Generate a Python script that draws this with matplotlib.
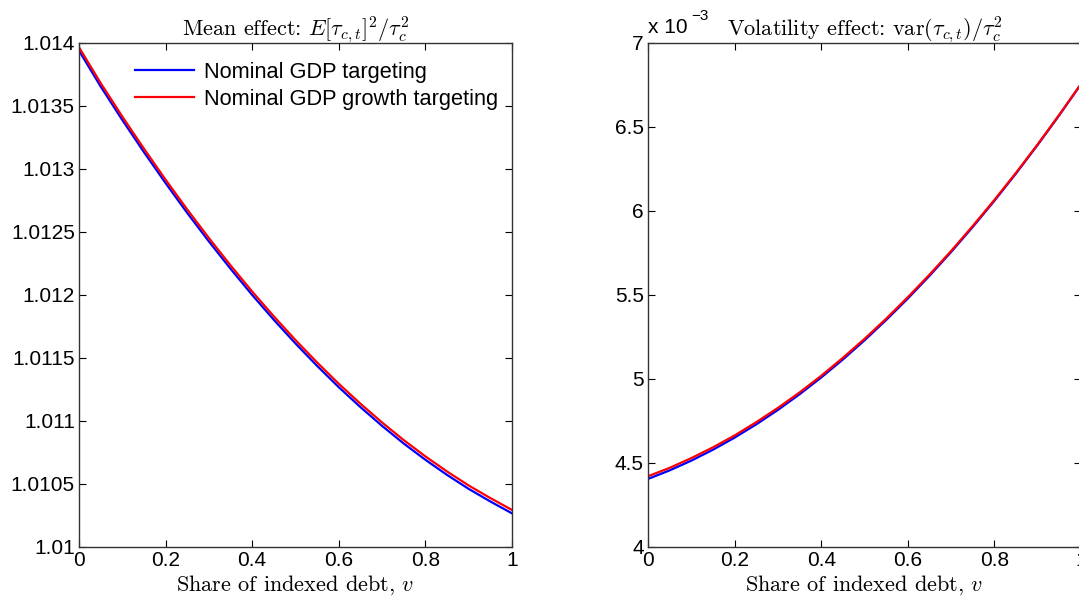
import numpy as np
import matplotlib
matplotlib.use("Agg")
import matplotlib.pyplot as plt

plt.rcParams['mathtext.fontset'] = 'cm'
plt.rcParams['font.family'] = ['Liberation Sans', 'DejaVu Sans']

# share of indexed debt
v = [0.0, 0.05, 0.1, 0.15, 0.2, 0.25, 0.3, 0.35, 0.4, 0.45, 0.5,
     0.55, 0.6, 0.65, 0.7, 0.75, 0.8, 0.85, 0.9, 0.95, 1.0]

# mean effect E[tau]^2 / tau^2
mean_ngdp = [1.013939, 1.013655, 1.013389, 1.013134, 1.012888, 1.012651, 1.012425,
             1.012208, 1.012000, 1.011803, 1.011615, 1.011437, 1.011268, 1.011110,
             1.010961, 1.010821, 1.010692, 1.010572, 1.010461, 1.010361, 1.010267]
mean_growth = [1.013966, 1.013682, 1.013416, 1.013161, 1.012915, 1.012678, 1.012452,
               1.012235, 1.012027, 1.011830, 1.011642, 1.011464, 1.011295, 1.011137,
               1.010988, 1.010848, 1.010719, 1.010599, 1.010488, 1.010388, 1.010294]

# volatility effect var(tau)/tau^2, in units of 1e-3
vol_ngdp = [4.405, 4.456, 4.514, 4.579, 4.651, 4.730, 4.816, 4.909, 5.009, 5.116, 5.230,
            5.351, 5.479, 5.614, 5.756, 5.905, 6.061, 6.224, 6.394, 6.571, 6.755]
vol_growth = [4.421, 4.471, 4.529, 4.593, 4.664, 4.743, 4.828, 4.920, 5.019, 5.126, 5.239,
              5.359, 5.487, 5.621, 5.762, 5.911, 6.066, 6.228, 6.397, 6.574, 6.757]

labels = ['Nominal GDP targeting', 'Nominal GDP growth targeting']
xticks = [0, 0.2, 0.4, 0.6, 0.8, 1]
mean_yticks = [1.01, 1.0105, 1.011, 1.0115, 1.012, 1.0125, 1.013, 1.0135, 1.014]
vol_yticks = [4, 4.5, 5, 5.5, 6, 6.5, 7]

fig = plt.figure(figsize=(10.79, 6.01), dpi=100)
ax1 = fig.add_axes([0.0732, 0.0899, 0.4013, 0.8386])
ax2 = fig.add_axes([0.6006, 0.0899, 0.4013, 0.8386])

def style(ax):
    ax.tick_params(direction='in', length=5, width=0.8, top=True, right=True,
                   labelsize=15, colors='black', pad=3)
    for s in ax.spines.values():
        s.set_color('#333333')
        s.set_linewidth(1.0)
    ax.set_xlim(0, 1)
    ax.set_xticks(xticks)
    ax.set_xticklabels(['0', '0.2', '0.4', '0.6', '0.8', '1'])
    ax.set_xlabel(r'Share of indexed debt, $v$', fontsize=16, fontfamily='cmr10', labelpad=2)

ax1.plot(v, mean_ngdp, color='#0000ff', lw=1.6, label=labels[0])
ax1.plot(v, mean_growth, color='#ff0000', lw=1.6, label=labels[1])
style(ax1)
ax1.set_ylim(1.01, 1.014)
ax1.set_yticks(mean_yticks)
ax1.set_yticklabels(['1.01', '1.0105', '1.011', '1.0115', '1.012', '1.0125',
                     '1.013', '1.0135', '1.014'])
ax1.set_title(r'Mean effect: $E[\tau_{c,t}]^2/\tau_c^2$', fontsize=16, fontfamily='cmr10', pad=5)
ax1.legend(loc='upper left', bbox_to_anchor=(0.129, 0.962), frameon=False,
           fontsize=15.7, handlelength=2.7, handletextpad=0.45, labelspacing=0.25,
           borderpad=0, borderaxespad=0)

ax2.plot(v, vol_ngdp, color='#0000ff', lw=1.6)
ax2.plot(v, vol_growth, color='#ff0000', lw=1.6)
style(ax2)
ax2.set_ylim(4, 7)
ax2.set_yticks(vol_yticks)
ax2.set_yticklabels(['4', '4.5', '5', '5.5', '6', '6.5', '7'])
ax2.set_title(r'Volatility effect: $\mathrm{var}(\tau_{c,t})/\tau_c^2$', fontsize=16,
              fontfamily='cmr10', pad=5)
ax2.text(0.0, 1.012, 'x 10', transform=ax2.transAxes, ha='left', va='bottom',
         fontsize=15, color='black')
ax2.text(0.1, 1.04, '\u22123', transform=ax2.transAxes, ha='left', va='bottom',
         fontsize=11, color='black')

fig.savefig('out.png', dpi=100)
